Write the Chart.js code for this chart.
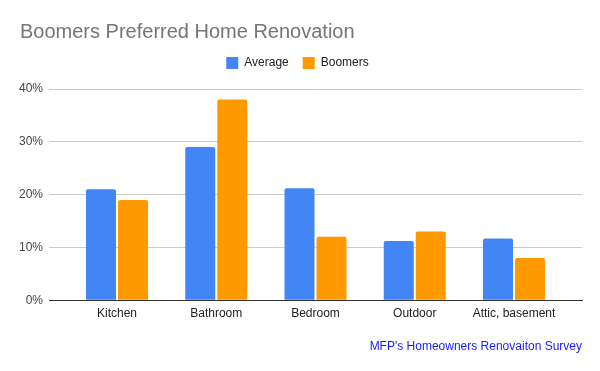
<!DOCTYPE html>
<html>
<head>
<meta charset="utf-8">
<script src="https://cdn.jsdelivr.net/npm/chart.js@4/dist/chart.umd.min.js"></script>
<style>
html,body{margin:0;padding:0;background:#fff;}
#wrap{width:600px;height:371px;}
</style>
</head>
<body>
<div id="wrap"><canvas id="c" width="600" height="371"></canvas></div>
<script>
const categories = ["Kitchen", "Bathroom", "Bedroom", "Outdoor", "Attic, basement"];
const averageValues = [21, 29, 21.2, 11.2, 11.7];
const boomersValues = [19, 38, 12, 13, 8];
const yTicks = [0, 10, 20, 30, 40];
const chartTitle = "Boomers Preferred Home Renovation";
const sourceNote = "MFP's Homeowners Renovaiton Survey";

const FONT = "'Liberation Sans', Arial, sans-serif";
const EDGE = 0.685; // extra category space on each side

const layoutTweaks = {
  id: 'layoutTweaks',
  afterInit(chart) {
    const lg = chart.legend;
    if (lg) {
      const orig = lg.fit;
      lg.fit = function () { orig.call(this); this.height += 10; };
    }
  },
  afterLayout(chart) {
    if (chart.titleBlock) chart.titleBlock.left = 20;
  }
};

new Chart(document.getElementById('c'), {
  type: 'bar',
  data: {
    labels: categories,
    datasets: [
      { label: 'Average', data: averageValues, backgroundColor: '#4285F4', borderRadius: 2, borderSkipped: 'bottom',
        categoryPercentage: 0.645, barPercentage: 0.9375 },
      { label: 'Boomers', data: boomersValues, backgroundColor: '#FF9900', borderRadius: 2, borderSkipped: 'bottom',
        categoryPercentage: 0.645, barPercentage: 0.9375 }
    ]
  },
  plugins: [layoutTweaks],
  options: {
    responsive: false,
    animation: false,
    devicePixelRatio: 1,
    layout: { padding: { left: 13, right: 18, top: 0, bottom: 0 } },
    plugins: {
      tooltip: { enabled: false },
      title: {
        display: true, text: chartTitle, align: 'start', color: '#757575',
        font: { family: FONT, size: 20, weight: 'normal', lineHeight: 1 },
        padding: { top: 22, bottom: 1 }
      },
      legend: {
        display: true, position: 'top', align: 'center',
        labels: { boxWidth: 12, boxHeight: 12, padding: 14, color: '#222',
          font: { family: FONT, size: 12 } }
      },
      subtitle: {
        display: true, text: sourceNote, position: 'bottom', align: 'end', color: '#1a1aff',
        font: { family: FONT, size: 12, weight: 'normal' },
        padding: { top: 13, bottom: 17 }
      }
    },
    scales: {
      x: {
        offset: true,
        grid: { display: false, drawTicks: false },
        border: { display: true, color: '#333', width: 1 },
        ticks: { color: '#222', padding: 6, font: { family: FONT, size: 12 }, maxRotation: 0, autoSkip: false },
        afterBuildTicks: (scale) => {
          scale._startValue = -EDGE;
          scale._valueRange = (categories.length - 1) + 2 * EDGE;
        }
      },
      y: {
        min: 0, max: 40,
        afterBuildTicks: (scale) => { scale.ticks = yTicks.map(v => ({ value: v })); },
        grid: { color: '#cccccc', drawTicks: false },
        border: { display: false },
        ticks: { color: '#444', padding: 6, font: { family: FONT, size: 12 },
          callback: (v) => v + '%' }
      }
    }
  }
});
</script>
</body>
</html>
